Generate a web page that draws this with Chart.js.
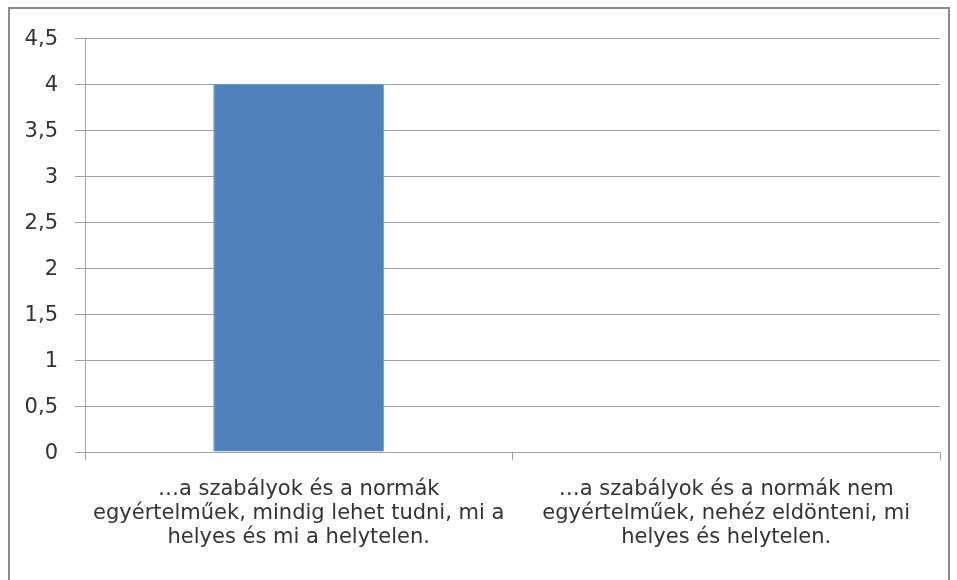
<!DOCTYPE html>
<html>
<head>
<meta charset="utf-8">
<script src="https://cdn.jsdelivr.net/npm/chart.js@4"></script>
<style>
  html, body { margin: 0; padding: 0; background: #fff; }
  #wrap { position: relative; width: 957px; height: 580px; }
  #frame { position: absolute; left: 8px; top: 7px; width: 942px; height: 580px; border: 2px solid #8a8a8a; box-sizing: border-box; }
  canvas { position: absolute; left: 0; top: 0; }
</style>
</head>
<body>
<div id="wrap">
  <div id="frame"></div>
  <canvas id="chart" width="957" height="580"></canvas>
</div>
<script>
const categories = [
  ['…a szabályok és a normák', 'egyértelműek, mindig lehet tudni, mi a', 'helyes és mi a helytelen.'],
  ['…a szabályok és a normák nem', 'egyértelműek, nehéz eldönteni, mi', 'helyes és helytelen.']
] ;
const values = [4, 0] ;
const yMin = 0 ;
const yMax = 4.5 ;
const yStep = 0.5 ;

const gridColor = '#a0a0a0' ;
const textColor = '#333333' ;

const chart = new Chart(document.getElementById('chart'), {
  type: 'bar',
  data: {
    labels: categories,
    datasets: [{
      data: values,
      backgroundColor: '#4f81bd',
      borderColor: '#6d95c6',
      borderWidth: 1,
      categoryPercentage: 0.4,
      barPercentage: 1.0
    }]
  },
  options: {
    responsive: false,
    animation: false,
    layout: { padding: { top: 38, right: 17, left: 0, bottom: 0 } },
    scales: {
      y: {
        min: yMin,
        max: yMax,
        ticks: {
          stepSize: yStep,
          color: textColor,
          padding: 17,
          labelOffset: 2,
          font: { family: 'DejaVu Sans', size: 21 },
          callback: (v) => v.toString().replace('.', ',')
        },
        grid: { color: gridColor, lineWidth: 1, tickLength: 10 },
        border: { display: true, color: gridColor },
        afterFit(scale) { scale.width = 85 ; }
      },
      x: {
        ticks: {
          color: textColor,
          padding: 18,
          maxRotation: 0,
          autoSkip: false,
          font: { family: 'DejaVu Sans', size: 21, lineHeight: 1.14 }
        },
        grid: { color: gridColor, drawOnChartArea: false, drawTicks: true, tickLength: 8, offset: true },
        border: { display: true, color: gridColor },
        afterFit(scale) { scale.height = 128 ; }
      }
    },
    plugins: {
      legend: { display: false },
      tooltip: { enabled: false }
    }
  }
});
</script>
</body>
</html>
